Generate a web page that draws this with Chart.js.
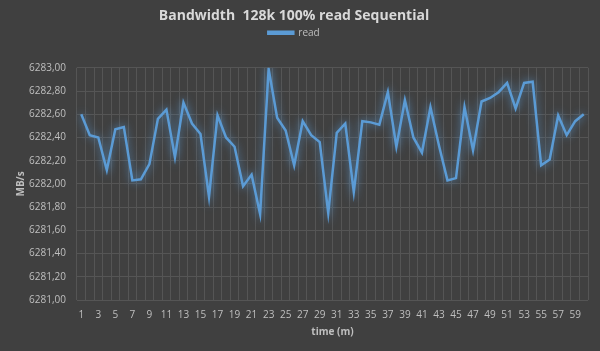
<!DOCTYPE html>
<html>
<head>
<meta charset="utf-8">
<script src="https://cdn.jsdelivr.net/npm/chart.js@4.4.1/dist/chart.umd.min.js"></script>
<style>
  html, body { margin: 0; padding: 0; background: #404040; }
  #wrap { width: 600px; height: 351px; }
</style>
</head>
<body>
<div id="wrap"><canvas id="bw"></canvas></div>
<script>
// minutes 1..60
const minutes = [
  1,2,3,4,5,6,7,8,9,10,11,12,13,14,15,16,17,18,19,20,
  21,22,23,24,25,26,27,28,29,30,31,32,33,34,35,36,37,38,39,40,
  41,42,43,44,45,46,47,48,49,50,51,52,53,54,55,56,57,58,59,60
];
// read bandwidth (MB/s)
const readMBs = [
  6282.60, 6282.42, 6282.40, 6282.12, 6282.47, 6282.49, 6282.03, 6282.04, 6282.17, 6282.56,
  6282.64, 6282.23, 6282.70, 6282.52, 6282.43, 6281.89, 6282.59, 6282.40, 6282.32, 6281.98,
  6282.08, 6281.74, 6282.99, 6282.57, 6282.46, 6282.16, 6282.54, 6282.42, 6282.36, 6281.75,
  6282.44, 6282.52, 6281.93, 6282.54, 6282.53, 6282.51, 6282.79, 6282.32, 6282.72, 6282.40,
  6282.27, 6282.66, 6282.33, 6282.03, 6282.05, 6282.66, 6282.29, 6282.71, 6282.74, 6282.79,
  6282.87, 6282.65, 6282.87, 6282.88, 6282.16, 6282.21, 6282.59, 6282.42, 6282.54, 6282.60
];
const yMin = 6281, yMax = 6283, yStep = 0.2;

const BLUE = '#5b9bd5', TXT = '#bfbfbf', GRID = '#555555';
const FONT = "'Open Sans', sans-serif";

// glow under the line, like the Excel effect
const glow = {
  id: 'glow',
  beforeDatasetsDraw(chart) {
    const c = chart.ctx;
    c.save();
    c.shadowColor = 'rgba(91,155,213,0.9)';
    c.shadowBlur = 8;
  },
  afterDatasetsDraw(chart) { chart.ctx.restore(); }
};
// extra space under the legend
const legendGap = {
  id: 'legendGap',
  beforeInit(chart) {
    const fit = chart.legend.fit;
    chart.legend.fit = function () { fit.bind(chart.legend)(); this.height += 20; };
  }
};

new Chart(document.getElementById('bw'), {
  type: 'line',
  data: {
    labels: minutes,
    datasets: [{
      label: 'read',
      data: readMBs,
      borderColor: BLUE,
      backgroundColor: BLUE,
      borderWidth: 2.5,
      pointRadius: 0,
      tension: 0
    }]
  },
  options: {
    responsive: true,
    maintainAspectRatio: false,
    animation: false,
    layout: { padding: { left: 0, right: 12, top: 0, bottom: 3 } },
    plugins: {
      title: {
        display: true,
        text: 'Bandwidth  128k 100% read Sequential',
        color: '#d9d9d9',
        font: { family: FONT, size: 14, weight: 'bold' },
        padding: { top: 8, bottom: 0 }
      },
      legend: {
        display: true,
        labels: {
          color: TXT, font: { family: FONT, size: 10 },
          boxWidth: 25, boxHeight: 2, padding: 3
        }
      },
      tooltip: { enabled: false }
    },
    scales: {
      x: {
        offset: true,
        grid: { color: GRID, offset: true, drawTicks: false },
        border: { display: false },
        ticks: {
          color: TXT, font: { family: FONT, size: 10 },
          autoSkip: false, maxRotation: 0, padding: 9,
          callback(v, i) { return i % 2 === 0 ? this.getLabelForValue(v) : ''; }
        },
        title: { display: true, text: 'time (m)', color: TXT, font: { family: FONT, size: 10, weight: 'bold' }, padding: { top: 2, bottom: 10 } },
        afterFit(s) { s.height = 48; }
      },
      y: {
        min: yMin, max: yMax,
        grid: { color: GRID, drawTicks: false },
        border: { display: false },
        ticks: {
          stepSize: yStep, color: TXT, font: { family: FONT, size: 10 }, padding: 11,
          callback: v => v.toFixed(2).replace('.', ',')
        },
        title: { display: true, text: 'MB/s', color: TXT, font: { family: FONT, size: 10, weight: 'bold' }, padding: { top: 15, bottom: 0 } },
        afterFit(s) { s.width = 77; }
      }
    }
  },
  plugins: [glow, legendGap]
});
</script>
</body>
</html>
